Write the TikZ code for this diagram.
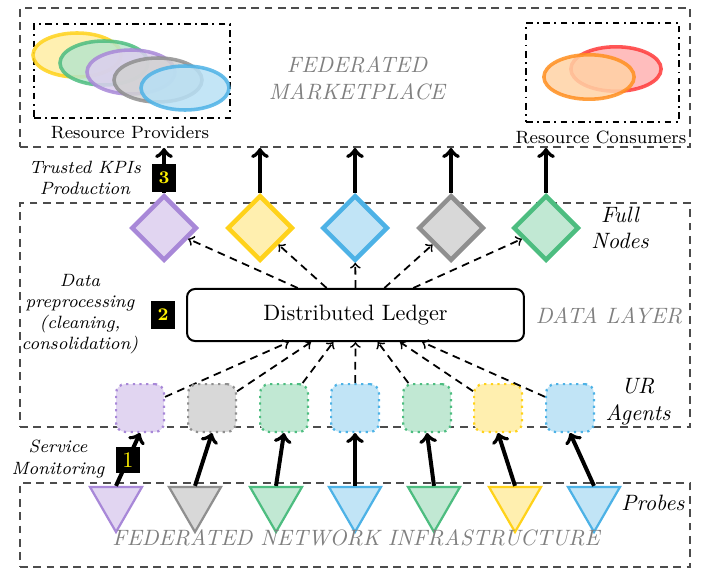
\documentclass[tikz,border=0pt]{standalone}
\usetikzlibrary{shapes.geometric}
\definecolor{cpurple}{HTML}{A888D8}
\definecolor{cyellow}{HTML}{FFD21A}
\definecolor{cgreen}{HTML}{4DBD80}
\definecolor{cgray}{HTML}{8F8F8F}
\definecolor{cblue}{HTML}{4DB2E6}
\definecolor{cred}{HTML}{FF3B3B}
\definecolor{corange}{HTML}{FF8F1F}
\begin{document}
\begin{tikzpicture}[x=0.45pt,y=-0.45pt,
        layer/.style={draw=black!70,thick,dash pattern=on 3.5pt off 2.5pt,inner sep=0pt,minimum width=301.5pt},
        group/.style={draw,thick,dash dot,inner sep=0pt},
        tag/.style={fill=black,text=yellow,font=\footnotesize\bfseries,minimum width=10.5pt,minimum height=12.5pt,inner sep=0pt},
        fullnode/.style={diamond,draw=#1,fill=#1!35,line width=2pt,minimum size=29.5pt,inner sep=0pt},
        agent/.style={draw=#1,fill=#1!35,dotted,line width=1pt,rounded corners=4pt,minimum size=21.5pt,inner sep=0pt},
        probe/.style={regular polygon,regular polygon sides=3,shape border rotate=180,draw=#1,fill=#1!35,line width=1pt,minimum size=27pt,inner sep=0pt},
        blob/.style={draw=#1,fill=#1!40,line width=1.6pt,opacity=0.85},
        feed/.style={line width=1.8pt,->},
        share/.style={thick,dash pattern=on 3.5pt off 2.5pt,->},
        side/.style={font=\footnotesize\itshape,align=center},
        layername/.style={font=\itshape,text=black!50,align=center}]
    \useasboundingbox (0,0) rectangle (706,569);
    % layers
    \node[layer,minimum height=62.6pt](mkt) at (355,77.5){};
    \node[layer,minimum height=100.8pt](data) at (355,315){};
    \node[layer,minimum height=37.8pt](net) at (355,525){};
    \node[layername](mkttitle) at (357,78){FEDERATED\\MARKETPLACE};
    % providers and consumers
    \node[group,minimum width=88.2pt,minimum height=42.3pt](prov) at (132,71){};
    \node[font=\footnotesize](provlbl) at (130,133){Resource Providers};
    \foreach \x/\y/\c in {77/55/cyellow,104/63/cgreen,131/72/cpurple,158/80/cgray,185/88/cblue}{
        \draw[blob=\c](\x,\y) ellipse (19.8pt and 9.9pt);
    }
    \node[group,minimum width=68.9pt,minimum height=44.6pt](cons) at (602.5,72.5){};
    \node[font=\footnotesize](conslbl) at (601,137){Resource Consumers};
    \foreach \x/\y/\c in {616/69/cred,589/77/corange}{
        \draw[blob=\c](\x,\y) ellipse (20.3pt and 10pt);
    }
    % full nodes
    \foreach \i/\x/\c in {1/164/cpurple,2/260/cyellow,3/355/cblue,4/451/cgray,5/546/cgreen}{
        \node[fullnode=\c](d\i) at (\x,228){};
        \draw[feed](d\i.north) -- (d\i.north |- mkt.south);
    }
    \node[draw,line width=0.9pt,rounded corners=3.6pt,minimum width=151.6pt,minimum height=23.4pt](dl) at (355.5,315){Distributed Ledger};
    \foreach \i in {1,...,5}{
        \draw[share]([xshift=(\i-3)*13pt]dl.north) -- (d\i);
    }
    % agents and probes
    \foreach \i/\x/\c in {1/140/cpurple,2/212/cgray,3/284/cgreen,4/355/cblue,5/427/cgreen,6/498/cyellow,7/570/cblue}{
        \node[agent=\c](a\i) at (\x,408){};
        \draw[share](a\i) -- ([xshift=(\i-4)*10pt]dl.south);
    }
    \foreach \i/\x/\c in {1/116/cpurple,2/195/cgray,3/276/cgreen,4/355/cblue,5/434/cgreen,6/515/cyellow,7/594/cblue}{
        \node[probe=\c](p\i) at (\x,502){};
        \draw[feed](p\i.north) -- (a\i.south);
    }
    % steps
    \node[tag](t3) at (164,178){3};
    \node[tag](t2) at (163,315){2};
    \node[tag,font=\normalsize,minimum height=12pt,minimum width=11pt](t1) at (128,460){1};
    % labels
    \node[side](kpi) at (85,178){Trusted KPIs\\Production};
    \node[font=\itshape,align=center](fulllbl) at (620,228){Full\\Nodes};
    \node[side](prep) at (80,314){Data\\preprocessing\\(cleaning,\\consolidation)};
    \node[layername](datatitle) at (609,316){DATA LAYER};
    \node[font=\itshape,align=center](urlbl) at (638,402){UR\\Agents};
    \node[side](mon) at (58,459){Service\\Monitoring};
    \node[font=\itshape](probelbl) at (653,503){Probes};
    \node[layername](nettitle) at (356,538){FEDERATED NETWORK INFRASTRUCTURE};
\end{tikzpicture}
\end{document}
